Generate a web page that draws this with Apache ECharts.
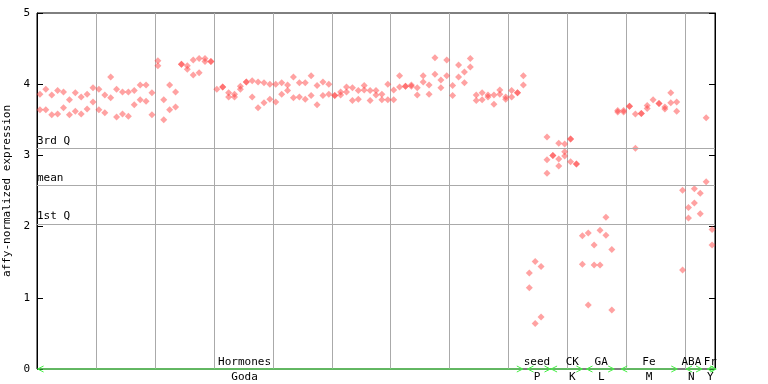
<!DOCTYPE html>
<html><head><meta charset="utf-8">
<script src="https://cdn.jsdelivr.net/npm/echarts@6/dist/echarts.min.js"></script>
<style>html,body{margin:0;padding:0;background:#fff}#c{width:768px;height:384px}</style>
</head><body><div id="c"></div>
<script>
// each inner array = values plotted at one sample column
const hormones = [
 [3.86,3.64],[3.93,3.64],[3.85,3.57],[3.91,3.58],[3.89,3.67],[3.78,3.57],[3.88,3.62],[3.82,3.58],[3.86,3.65],[3.95,3.75],
 [3.93,3.64],[3.85,3.60],[4.10,3.81],[3.93,3.54],[3.89,3.58],[3.89,3.55],[3.91,3.71],[3.99,3.78],[3.99,3.76],[3.88,3.57],
 [4.33,4.26],[3.78,3.50],[3.99,3.64],[3.89,3.68],[4.28,4.28],[4.26,4.21],[4.34,4.13],[4.36,4.16],[4.36,4.32],[4.32,4.32],
 [3.93],[3.96,3.96],[3.88,3.82],[3.86,3.82],[3.97,3.93],[4.03,4.03],[4.05,3.82],[4.03,3.67],[4.02,3.74],[4.00,3.79],
 [4.00,3.75],[4.02,3.86],[3.99,3.91],[4.10,3.81],[4.02,3.82],[4.02,3.79],[4.12,3.84],[3.98,3.71],[4.03,3.84],[4.00,3.86],
 [3.84,3.84],[3.89,3.85],[3.96,3.89],[3.95,3.77],[3.91,3.79],[3.98,3.92],[3.91,3.77],[3.91,3.85],[3.86,3.78],[4.00,3.78],
 [3.92,3.78],[4.12,3.96],[3.97,3.97],[3.99,3.97],[3.95,3.85],[4.12,4.03],[3.99,3.86],[4.37,4.14],[4.06,3.95],[4.34,4.12],
 [3.98,3.84],[4.27,4.10],[4.17,4.02],[4.36,4.24],[3.85,3.77],[3.88,3.78],[3.85,3.82],[3.85,3.72],[3.92,3.86],[3.82,3.79],
 [3.91,3.82],[3.88,3.88],[4.12,3.99]
];
const seed = [[1.35,1.14],[1.51,0.64],[1.44,0.73]];
const ck = [[3.26,2.94,2.75],[3.00,3.00],[3.17,2.95,2.85],[3.16,3.05,2.99],[3.23,3.23,2.91],[2.88,2.88]];
const ga = [[1.87,1.47],[1.91,0.90],[1.74,1.46],[1.95,1.46],[2.13,1.88],[1.68,0.83]];
const fe = [[3.63,3.61],[3.63,3.61],[3.69,3.69],[3.58,3.10],[3.59,3.59],[3.70,3.66],[3.78],[3.73,3.73],[3.68,3.65],[3.88,3.74],[3.75,3.62]];
const aba = [[2.51,1.39],[2.27,2.12],[2.53,2.33],[2.47,2.18],[3.53,2.63]];
const fr = [[1.96,1.74]];

const groupNames = ['Hormones','seed','CK','GA','Fe','ABA','Fr'];
const groupSubs  = ['Goda','P','K','L','M','N','Y'];
const groupStart = [0.1, 83.2, 87.2, 93.2, 99.1, 110.1, 113.7];
const groupEnd   = [82.4, 87.1, 92.5, 97.9, 108.6, 112.8, 115.2];
const groupLabelAt = [35.2, 84.8, 90.8, 95.7, 103.8, 111.0, 114.2];

const statNames = ['3rd Q','mean','1st Q'];
const statValues = [3.104, 2.584, 2.039];

const yTicks = [0,1,2,3,4,5];

const columns = [].concat(hormones, seed, ck, ga, fe, aba, fr);
const points = [];
columns.forEach((vals, i) => vals.forEach(v => points.push([i + 0.5, v])));

const FONT = 'DejaVu Sans Mono';
const chart = echarts.init(document.getElementById('c'), null, {renderer:'canvas'});
chart.setOption({
  animation: false,
  grid: {left: 37, right: 53, top: 13, bottom: 15, show: true, borderColor: '#000', borderWidth: 1,
    backgroundColor: 'transparent', containLabel: false, outerBoundsMode: 'none'},
  xAxis: {
    type: 'value', min: 0, max: 115, interval: 10,
    axisLine: {show: false}, axisTick: {show: false}, axisLabel: {show: false},
    splitLine: {show: true, lineStyle: {color: '#aaaaaa', width: 1}}
  },
  yAxis: [{
    type: 'value', min: 0, max: 5, interval: 1, position: 'left',
    axisLine: {show: true, lineStyle: {color: '#000'}},
    axisTick: {show: true, inside: true, length: 6, lineStyle: {color: '#000'}},
    axisLabel: {color: '#000', fontFamily: FONT, fontSize: 11, margin: 7,
      formatter: v => yTicks.includes(v) ? String(v) : ''},
    splitLine: {show: false},
    name: 'affy-normalized expression', nameLocation: 'middle', nameRotate: 90, nameGap: 21,
    nameTextStyle: {color: '#000', fontFamily: FONT, fontSize: 11}
  },{
    type: 'value', min: 0, max: 5, interval: 1, position: 'right',
    axisLine: {show: true, lineStyle: {color: '#000'}},
    axisTick: {show: true, inside: true, length: 6, lineStyle: {color: '#000'}},
    axisLabel: {show: false}, splitLine: {show: false}
  }],
  series: [{
    type: 'scatter',
    data: points,
    symbol: 'diamond', symbolSize: 7,
    itemStyle: {color: 'rgba(255,60,60,0.6)'},
    markLine: {
      silent: true, symbol: 'none', animation: false,
      lineStyle: {color: '#aaaaaa', type: 'solid', width: 1},
      label: {show: true, position: 'insideStartTop', formatter: '{b}', color: '#000',
        fontFamily: FONT, fontSize: 11, distance: [0, 2]},
      data: statNames.map((n, i) => ({name: n, yAxis: statValues[i]}))
    },
    z: 3
  },{
    type: 'custom',
    clip: false,
    z: 5,
    data: groupNames.map((n, i) => [groupStart[i], groupEnd[i], groupLabelAt[i]]),
    renderItem: function (params, api) {
      const i = params.dataIndex;
      const a = api.coord([api.value(0), 0]);
      const b = api.coord([api.value(1), 0]);
      const c = api.coord([api.value(2), 0]);
      const y = a[1];
      const g = '#44ee44';
      return {
        type: 'group',
        children: [
          {type: 'line', shape: {x1: a[0], y1: y, x2: b[0], y2: y}, style: {stroke: g, lineWidth: 1}},
          {type: 'polyline', shape: {points: [[a[0]+6, y-3],[a[0], y],[a[0]+6, y+3]]}, style: {stroke: g, fill: null, lineWidth: 1}},
          {type: 'polyline', shape: {points: [[b[0]-6, y-3],[b[0], y],[b[0]-6, y+3]]}, style: {stroke: g, fill: null, lineWidth: 1}},
          {type: 'text', style: {text: groupNames[i], x: c[0], y: y - 7, align: 'center', verticalAlign: 'middle',
            fill: '#000', font: '11px "' + FONT + '"'}},
          {type: 'text', style: {text: groupSubs[i], x: c[0], y: y + 8, align: 'center', verticalAlign: 'middle',
            fill: '#000', font: '11px "' + FONT + '"'}}
        ]
      };
    }
  }]
});
</script>
</body></html>
